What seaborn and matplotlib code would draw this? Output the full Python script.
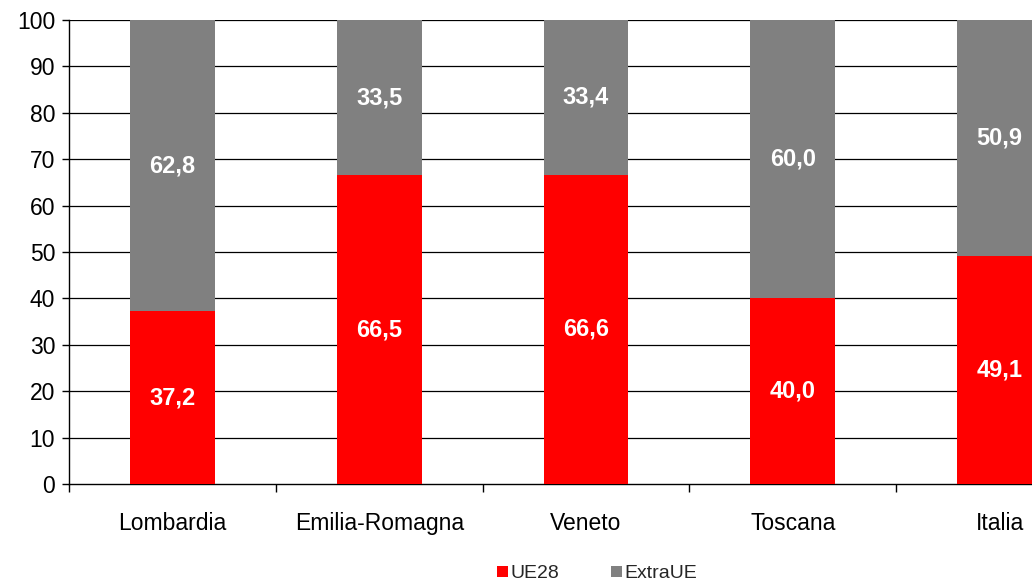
import matplotlib
matplotlib.use("Agg")
import matplotlib.pyplot as plt
import seaborn as sns
import pandas as pd
import numpy as np
from matplotlib.patches import Patch

categories = ["Lombardia", "Emilia-Romagna", "Veneto", "Toscana", "Italia"]
ue28 = [37.2, 66.5, 66.6, 40.0, 49.1]
extraue = [62.8, 33.5, 33.4, 60.0, 50.9]
yticks = list(range(0, 101, 10))

RED = "#ff0000"
GRAY = "#808080"

sns.set_style("white")
plt.rcParams["font.family"] = ["Liberation Sans", "DejaVu Sans"]

df = pd.DataFrame({"cat": categories, "ue28": ue28, "extra": extraue})
df["total"] = df["ue28"] + df["extra"]

fig = plt.figure(figsize=(10.32, 5.85), dpi=100)
ax = fig.add_axes([69 / 1032, 1 - 484 / 585, 1034 / 1032, 464 / 585])

sns.barplot(data=df, x="cat", y="total", color=GRAY, width=0.41,
            saturation=1, ax=ax, zorder=3, linewidth=0)
sns.barplot(data=df, x="cat", y="ue28", color=RED, width=0.41,
            saturation=1, ax=ax, zorder=4, linewidth=0)

ax.set_ylim(0, 100)
ax.set_xlim(-0.5, len(categories) - 0.5)
ax.set_yticks(yticks)
ax.set_yticklabels([str(v) for v in yticks])
ax.set_xlabel("")
ax.set_ylabel("")

for v in yticks[1:]:
    ax.axhline(v, color="black", lw=0.9, zorder=1)

for s in ["top", "right"]:
    ax.spines[s].set_visible(False)
ax.spines["left"].set_color("black")
ax.spines["bottom"].set_color("black")
ax.spines["left"].set_linewidth(1.0)
ax.spines["bottom"].set_linewidth(1.0)

ax.tick_params(axis="y", which="major", left=True, length=5, width=1,
               color="black", pad=5, labelsize=16.5, labelcolor="black")
ax.tick_params(axis="x", which="major", bottom=False, length=0, pad=20,
               labelsize=16.5, labelcolor="black")
ax.set_xticks(np.arange(-0.5, len(categories), 1.0), minor=True)
ax.tick_params(axis="x", which="minor", bottom=True, length=6, width=1,
               color="black", direction="out")

for i, (u, e) in enumerate(zip(ue28, extraue)):
    ax.text(i, u / 2, f"{u:.1f}".replace(".", ","), ha="center", va="center",
            color="white", fontsize=17, fontweight="bold", zorder=5)
    ax.text(i, u + e / 2, f"{e:.1f}".replace(".", ","), ha="center", va="center",
            color="white", fontsize=17, fontweight="bold", zorder=5)

handles = [Patch(facecolor=RED, edgecolor="none", label="UE28"),
           Patch(facecolor=GRAY, edgecolor="none", label="ExtraUE")]
fig.legend(handles=handles, loc="center", bbox_to_anchor=(597 / 1032, 1 - 574 / 585),
           ncol=2, frameon=False, fontsize=14, handlelength=0.55, handleheight=0.55,
           handletextpad=0.1, columnspacing=2.7, borderaxespad=0, borderpad=0)

fig.savefig("out.png", dpi=100)
